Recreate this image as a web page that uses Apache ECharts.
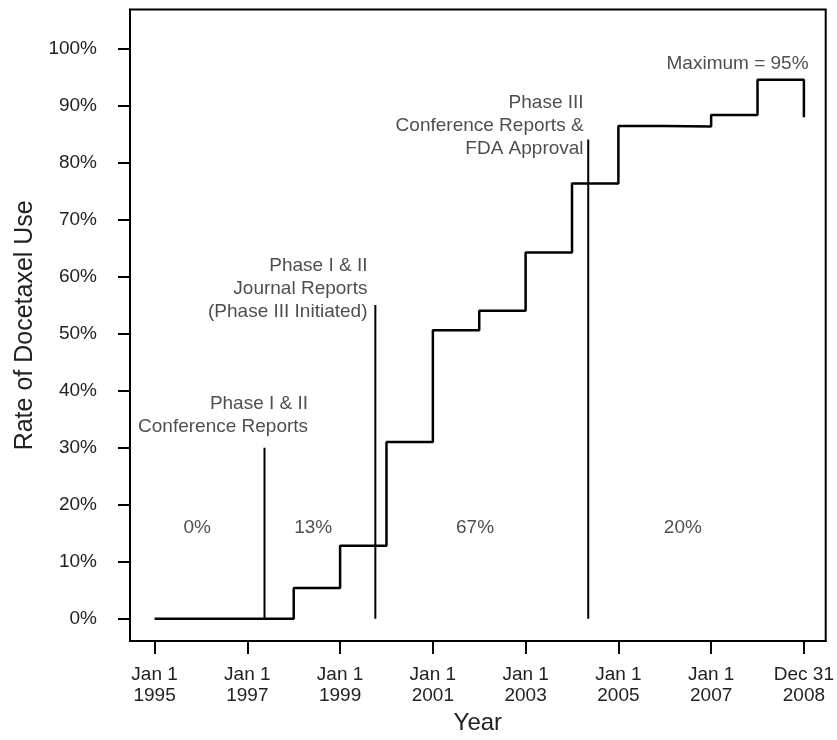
<!DOCTYPE html>
<html>
<head>
<meta charset="utf-8">
<script src="https://cdn.jsdelivr.net/npm/echarts@6/dist/echarts.min.js"></script>
<style>
  html, body { margin: 0; padding: 0; background: #fff; }
  #chart { width: 837px; height: 740px; }
</style>
</head>
<body>
<div id="chart"></div>
<script>
// step curve: rate of use by year (value held until next year)
const stepYears = [1995, 1998, 1999, 2000, 2001, 2002, 2003, 2004, 2005, 2006, 2007, 2008, 2009]
const stepRates = [0, 5.4, 12.8, 31.0, 50.6, 54.0, 64.2, 76.3, 86.4, 86.3, 88.3, 94.5, 87.9]

// event markers (vertical lines)
const eventYears = [1997.37, 1999.76, 2004.35]
const eventTops = [30, 55, 84]

// annotation texts, anchored at right edge / bottom of the text block
const noteTexts = [
  'Phase I & II\nConference Reports',
  'Phase I & II\nJournal Reports\n(Phase III Initiated)',
  'Phase III\nConference Reports &\nFDA Approval',
  'Maximum = 95%'
]
const noteX = [1998.31, 1999.59, 2004.25, 2009.1]
const noteY = [31.6, 51.8, 80.4, 95.3]

// share of use in each period
const periodTexts = ['0%', '13%', '67%', '20%']
const periodX = [1995.92, 1998.42, 2001.91, 2006.39]
const periodY = 15.9

// axis ticks
const tickYears = [1995, 1997, 1999, 2001, 2003, 2005, 2007, 2009]
const tickLabels = ['Jan 1\n1995', 'Jan 1\n1997', 'Jan 1\n1999', 'Jan 1\n2001', 'Jan 1\n2003', 'Jan 1\n2005', 'Jan 1\n2007', 'Dec 31\n2008']
const rateTicks = [0, 10, 20, 30, 40, 50, 60, 70, 80, 90, 100]

const FONT = "'Liberation Sans', Arial, sans-serif"
const TEXT = '#222'

const chart = echarts.init(document.getElementById('chart'))

const eventSeries = eventYears.map((x, i) => ({
  type: 'line',
  data: [[x, 0], [x, eventTops[i]]],
  symbol: 'none',
  lineStyle: { color: '#000', width: 2 },
  silent: true,
  z: 3
}))

const option = {
  animation: false,
  backgroundColor: '#fff',
  textStyle: { fontFamily: FONT },
  grid: {
    left: 130,
    right: 6,
    top: 9.5,
    bottom: 97.5,
    show: true,
    borderColor: '#000',
    borderWidth: 2,
    backgroundColor: 'transparent'
  },
  xAxis: {
    type: 'value',
    min: 1994.47,
    max: 2009.47,
    name: 'Year',
    nameLocation: 'middle',
    nameGap: 68,
    nameTextStyle: { fontSize: 24, color: TEXT, fontFamily: FONT },
    axisLine: { show: true, onZero: false, lineStyle: { color: '#000', width: 2 } },
    axisTick: { show: true, customValues: tickYears, length: 13, lineStyle: { color: '#000', width: 2 } },
    axisLabel: {
      customValues: tickYears,
      formatter: (v) => tickLabels[tickYears.indexOf(v)] || '',
      fontSize: 19,
      lineHeight: 21,
      color: TEXT,
      margin: 23,
      fontFamily: FONT
    },
    splitLine: { show: false }
  },
  yAxis: {
    type: 'value',
    min: -3.9,
    max: 106.8,
    name: 'Rate of Docetaxel Use',
    nameLocation: 'middle',
    nameGap: 90,
    nameTextStyle: { fontSize: 25, color: TEXT, fontFamily: FONT },
    axisLine: { show: true, onZero: false, lineStyle: { color: '#000', width: 2 } },
    axisTick: { show: true, customValues: rateTicks, length: 12, lineStyle: { color: '#000', width: 2 } },
    axisLabel: {
      customValues: rateTicks,
      formatter: (v) => v + '%',
      fontSize: 19,
      color: TEXT,
      margin: 33,
      fontFamily: FONT
    },
    splitLine: { show: false }
  },
  series: [
    {
      type: 'line',
      step: 'end',
      data: stepYears.map((x, i) => [x, stepRates[i]]),
      symbol: 'none',
      lineStyle: { color: '#000', width: 2.5 },
      silent: true,
      z: 4
    },
    ...eventSeries,
    {
      type: 'scatter',
      symbolSize: 0,
      silent: true,
      data: noteX.map((x, i) => ({ value: [x, noteY[i]], text: noteTexts[i] })),
      label: {
        show: true,
        position: [0, 0],
        align: 'right',
        verticalAlign: 'bottom',
        formatter: (p) => p.data.text,
        fontSize: 19,
        lineHeight: 23,
        color: TEXT,
        fontFamily: FONT
      },
      z: 5
    },
    {
      type: 'scatter',
      symbolSize: 0,
      silent: true,
      data: periodX.map((x, i) => ({ value: [x, periodY], text: periodTexts[i] })),
      label: {
        show: true,
        position: [0, 0],
        align: 'center',
        verticalAlign: 'middle',
        formatter: (p) => p.data.text,
        fontSize: 19,
        color: TEXT,
        fontFamily: FONT
      },
      z: 5
    }
  ]
}

chart.setOption(option)
</script>
</body>
</html>
